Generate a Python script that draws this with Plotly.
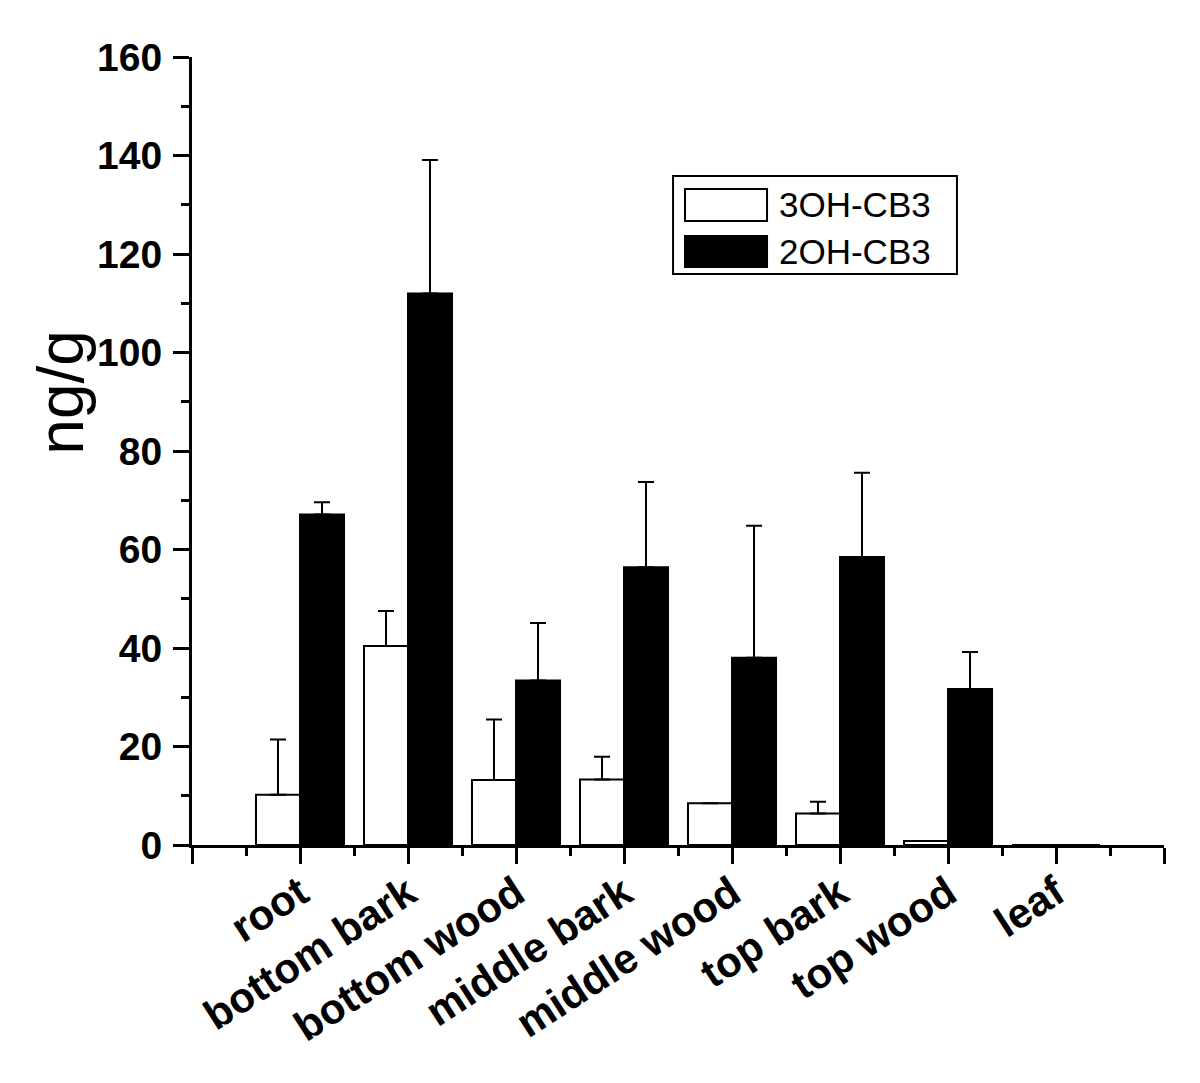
import plotly.graph_objects as go

# tissue categories and concentrations (ng/g)
categories = ["root", "bottom bark", "bottom wood", "middle bark",
              "middle wood", "top bark", "top wood", "leaf"]
oh3_values = [10.2, 40.4, 13.2, 13.3, 8.5, 6.4, 0.8, 0]
oh3_errors = [11.2, 7.1, 12.3, 4.6, None, 2.4, None, None]
oh2_values = [67.1, 112.0, 33.4, 56.4, 38.0, 58.5, 31.7, 0]
oh2_errors = [2.5, 27.1, 11.7, 17.3, 26.8, 17.1, 7.5, None]
series_names = ["3OH-CB3", "2OH-CB3"]

FONT = "Arial, Liberation Sans, sans-serif"
xpos = list(range(len(categories)))

fig = go.Figure()

fig.add_trace(go.Bar(
    x=xpos, y=oh3_values, name=series_names[0],
    marker=dict(color="white", line=dict(color="black", width=2)),
    error_y=dict(type="data", symmetric=False, array=oh3_errors,
                 arrayminus=[0] * len(categories),
                 color="black", thickness=2, width=8),
))
fig.add_trace(go.Bar(
    x=xpos, y=oh2_values, name=series_names[1],
    marker=dict(color="black", line=dict(color="black", width=2)),
    error_y=dict(type="data", symmetric=False, array=oh2_errors,
                 arrayminus=[0] * len(categories),
                 color="black", thickness=2, width=8),
))

# x ticks: one per category plus the two axis ends
tickvals = list(range(-1, len(categories) + 1))
ticktext = [""] + categories + [""]

fig.update_xaxes(
    range=[-1, len(categories)],
    tickmode="array", tickvals=tickvals, ticktext=ticktext,
    tickangle=-33,
    tickfont=dict(family=FONT, size=42, color="black", weight="bold"),
    ticklabelstandoff=-12,
    ticks="outside", ticklen=16, tickwidth=3, tickcolor="black",
    minor=dict(ticks="outside", ticklen=8, tickwidth=3, tickcolor="black",
               tick0=-1, dtick=0.5, showgrid=False),
    showline=True, linecolor="black", linewidth=3,
    showgrid=False, zeroline=False,
)
fig.update_yaxes(
    range=[0, 160], tick0=0, dtick=20,
    tickfont=dict(family=FONT, size=39, color="black", weight="bold"),
    ticks="outside", ticklen=16, tickwidth=3, tickcolor="black",
    ticklabelstandoff=3,
    minor=dict(ticks="outside", ticklen=8, tickwidth=3, tickcolor="black",
               dtick=10, showgrid=False),
    showline=True, linecolor="black", linewidth=3,
    showgrid=False, zeroline=False,
)

# y-axis title
fig.add_annotation(
    text="ng/g", xref="paper", yref="paper", x=-0.135, y=0.575,
    xanchor="center", yanchor="middle", textangle=-90, showarrow=False,
    font=dict(family=FONT, size=64, color="black"),
)

# boxed legend with wide swatches, as in the original
fig.add_shape(type="rect", xref="paper", yref="paper",
              x0=0.4949, x1=0.787, y0=0.7246, y1=0.849,
              line=dict(color="black", width=2), fillcolor="white")
swatch_fill = ["white", "black"]
swatch_y = [(0.7919, 0.8325), (0.7335, 0.7728)]
for name, fill, (y0, y1) in zip(series_names, swatch_fill, swatch_y):
    fig.add_shape(type="rect", xref="paper", yref="paper",
                  x0=0.5072, x1=0.5916, y0=y0, y1=y1,
                  line=dict(color="black", width=2), fillcolor=fill)
    fig.add_annotation(text=name, xref="paper", yref="paper",
                       x=0.6019, y=(y0 + y1) / 2, xanchor="left",
                       yanchor="middle", showarrow=False,
                       font=dict(family=FONT, size=35, color="black"))

# the page body adds an 8px offset, so margins are trimmed by that much
fig.update_layout(
    barmode="group", bargap=0.185, bargroupgap=0,
    showlegend=False,
    width=1200, height=1083,
    margin=dict(l=184, r=44, t=49, b=246),
    plot_bgcolor="white", paper_bgcolor="white",
)

fig.write_html("out.html")
